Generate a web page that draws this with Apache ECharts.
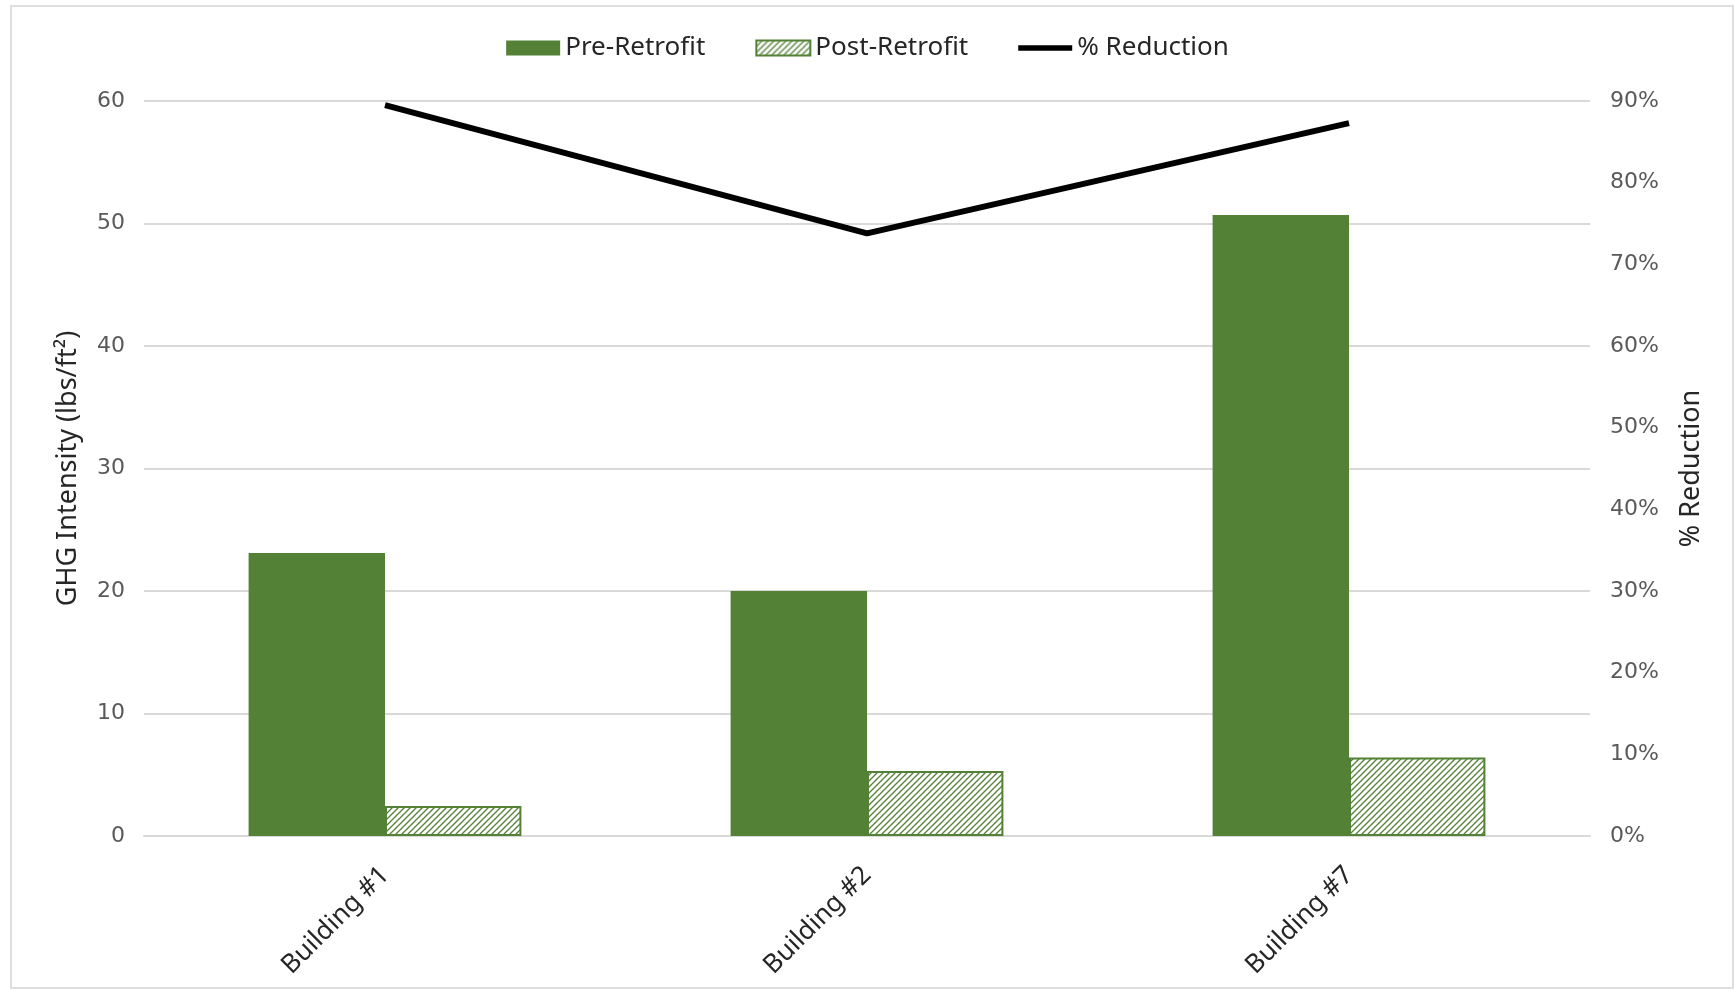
<!DOCTYPE html>
<html>
<head>
<meta charset="utf-8">
<script src="https://cdn.jsdelivr.net/npm/echarts@6/dist/echarts.min.js"></script>
<style>
  html, body { margin: 0; padding: 0; background: #ffffff; }
  #chart { width: 1735px; height: 991px; }
</style>
</head>
<body>
<div id="chart"></div>
<script>
// Buildings and their GHG intensity before / after retrofit (lbs/ft²)
const buildings = ['Building #1', 'Building #2', 'Building #7'];
const preRetrofit = [23.1, 20.0, 50.7];
const postRetrofit = [2.45, 5.3, 6.4];
// Percent reduction per building (0–1)
const reduction = [0.895, 0.738, 0.873];

const GREEN = '#538135';
const TEXT = '#595959';
const DARK = '#262626';
const FONT = '"Noto Sans", "Open Sans", sans-serif';
const NUM_FONT = '"DejaVu Sans", "Noto Sans", sans-serif';

// Diagonal hatch fill for the post-retrofit bars
function hatchPattern() {
  const size = 6;
  const c = document.createElement('canvas');
  c.width = size; c.height = size;
  const ctx = c.getContext('2d');
  ctx.fillStyle = '#ffffff';
  ctx.fillRect(0, 0, size, size);
  ctx.strokeStyle = GREEN;
  ctx.lineWidth = 1.3;
  ctx.beginPath();
  ctx.moveTo(0, size); ctx.lineTo(size, 0);
  ctx.moveTo(-1, 1); ctx.lineTo(1, -1);
  ctx.moveTo(size - 1, size + 1); ctx.lineTo(size + 1, size - 1);
  ctx.stroke();
  return { image: c, repeat: 'repeat' };
}

const chart = echarts.init(document.getElementById('chart'), null, { renderer: 'canvas' });

chart.setOption({
  backgroundColor: '#ffffff',
  animation: false,
  textStyle: { fontFamily: FONT, color: TEXT },
  graphic: [{
    type: 'rect',
    shape: { x: 11, y: 6, width: 1722, height: 982 },
    style: { fill: 'none', stroke: '#dedede', lineWidth: 2 },
    silent: true,
    z: -1
  }],
  legend: {
    top: 30,
    left: 'center',
    itemWidth: 54,
    itemHeight: 15,
    itemGap: 50,
    textStyle: { fontFamily: FONT, fontSize: 26, color: DARK },
    data: [
      { name: 'Pre-Retrofit', icon: 'rect' },
      { name: 'Post-Retrofit', icon: 'rect' },
      { name: '% Reduction', icon: 'path://M0,0 H60 V6 H0 Z' }
    ]
  },
  grid: { left: 144, right: 145, top: 101, bottom: 155, containLabel: false },
  xAxis: {
    type: 'category',
    data: buildings,
    axisLine: { show: true, lineStyle: { color: '#d9d9d9', width: 2 } },
    axisTick: { show: false },
    axisLabel: {
      rotate: 45,
      margin: 35,
      fontSize: 26,
      color: DARK,
      fontFamily: FONT
    }
  },
  yAxis: [
    {
      type: 'value',
      min: 0,
      max: 60,
      interval: 10,
      name: 'GHG Intensity (lbs/ft²)',
      nameLocation: 'middle',
      nameGap: 62,
      nameRotate: 90,
      nameTextStyle: { fontSize: 27, color: DARK, fontFamily: FONT },
      axisLine: { show: false },
      axisTick: { show: false },
      axisLabel: { fontSize: 22, color: TEXT, margin: 19, fontFamily: NUM_FONT },
      splitLine: { lineStyle: { color: '#d9d9d9', width: 2 } }
    },
    {
      type: 'value',
      min: 0,
      max: 0.9,
      interval: 0.1,
      name: '% Reduction',
      nameLocation: 'middle',
      nameGap: 88,
      nameRotate: 90,
      nameTextStyle: { fontSize: 27, color: DARK, fontFamily: FONT },
      axisLine: { show: false },
      axisTick: { show: false },
      splitLine: { show: false },
      axisLabel: {
        fontSize: 22,
        color: TEXT,
        margin: 20,
        fontFamily: NUM_FONT,
        formatter: v => Math.round(v * 100) + '%'
      }
    }
  ],
  series: [
    {
      name: 'Pre-Retrofit',
      type: 'bar',
      yAxisIndex: 0,
      data: preRetrofit,
      barWidth: '28.3%',
      barGap: '0%',
      itemStyle: { color: GREEN }
    },
    {
      name: 'Post-Retrofit',
      type: 'bar',
      yAxisIndex: 0,
      data: postRetrofit,
      barWidth: '28.3%',
      barGap: '0%',
      itemStyle: { color: hatchPattern(), borderColor: GREEN, borderWidth: 2 }
    },
    {
      name: '% Reduction',
      type: 'line',
      yAxisIndex: 1,
      data: reduction,
      symbol: 'none',
      lineStyle: { color: '#000000', width: 6 },
      itemStyle: { color: '#000000' },
      z: 5
    }
  ]
});
</script>
</body>
</html>
